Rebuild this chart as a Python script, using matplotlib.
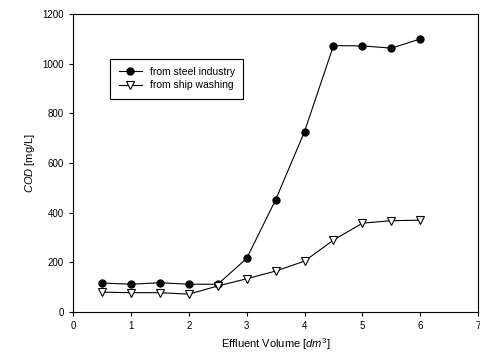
import matplotlib
matplotlib.use("Agg")
import matplotlib.pyplot as plt

plt.rcParams['font.family'] = ['Liberation Sans', 'DejaVu Sans']
plt.rcParams['mathtext.fontset'] = 'custom'
plt.rcParams['mathtext.rm'] = 'Liberation Sans'
plt.rcParams['mathtext.it'] = 'Liberation Sans:italic'

volume = [0.5, 1, 1.5, 2, 2.5, 3, 3.5, 4, 4.5, 5, 5.5, 6]
steel = [117, 112, 118, 112, 112, 216, 452, 727, 1073, 1072, 1063, 1100]
ship = [80, 78, 78, 72, 105, 134, 165, 205, 290, 358, 368, 370]

fig = plt.figure(figsize=(4.81, 3.62), dpi=100)
ax = fig.add_axes([0.152, 0.138, 0.842, 0.823])

ax.plot(volume, steel, color='black', lw=0.8, marker='o', ms=5,
        label='from steel industry')
ax.plot(volume, ship, color='black', lw=0.8, marker='v', ms=6,
        markerfacecolor='white', markeredgewidth=0.8, label='from ship washing')

ax.set_xlim(0, 7)
ax.set_ylim(0, 1200)
ax.set_xticks(range(0, 8))
ax.set_yticks(range(0, 1201, 200))
ax.tick_params(labelsize=7, length=3, width=0.8)
for s in ax.spines.values():
    s.set_linewidth(0.8)

ax.set_xlabel(r'Effluent Volume [$\mathit{dm}^3$]', fontsize=8)
ax.set_ylabel(r'$\mathit{COD}$ [mg/L]', fontsize=8)

leg = ax.legend(loc='upper left', bbox_to_anchor=(0.092, 0.85), fontsize=7.5,
                handlelength=2.2, fancybox=False, edgecolor='black',
                framealpha=1, borderpad=0.8, labelspacing=0.3,
                borderaxespad=0)
leg.get_frame().set_linewidth(0.8)

fig.savefig('out.png', dpi=100)
